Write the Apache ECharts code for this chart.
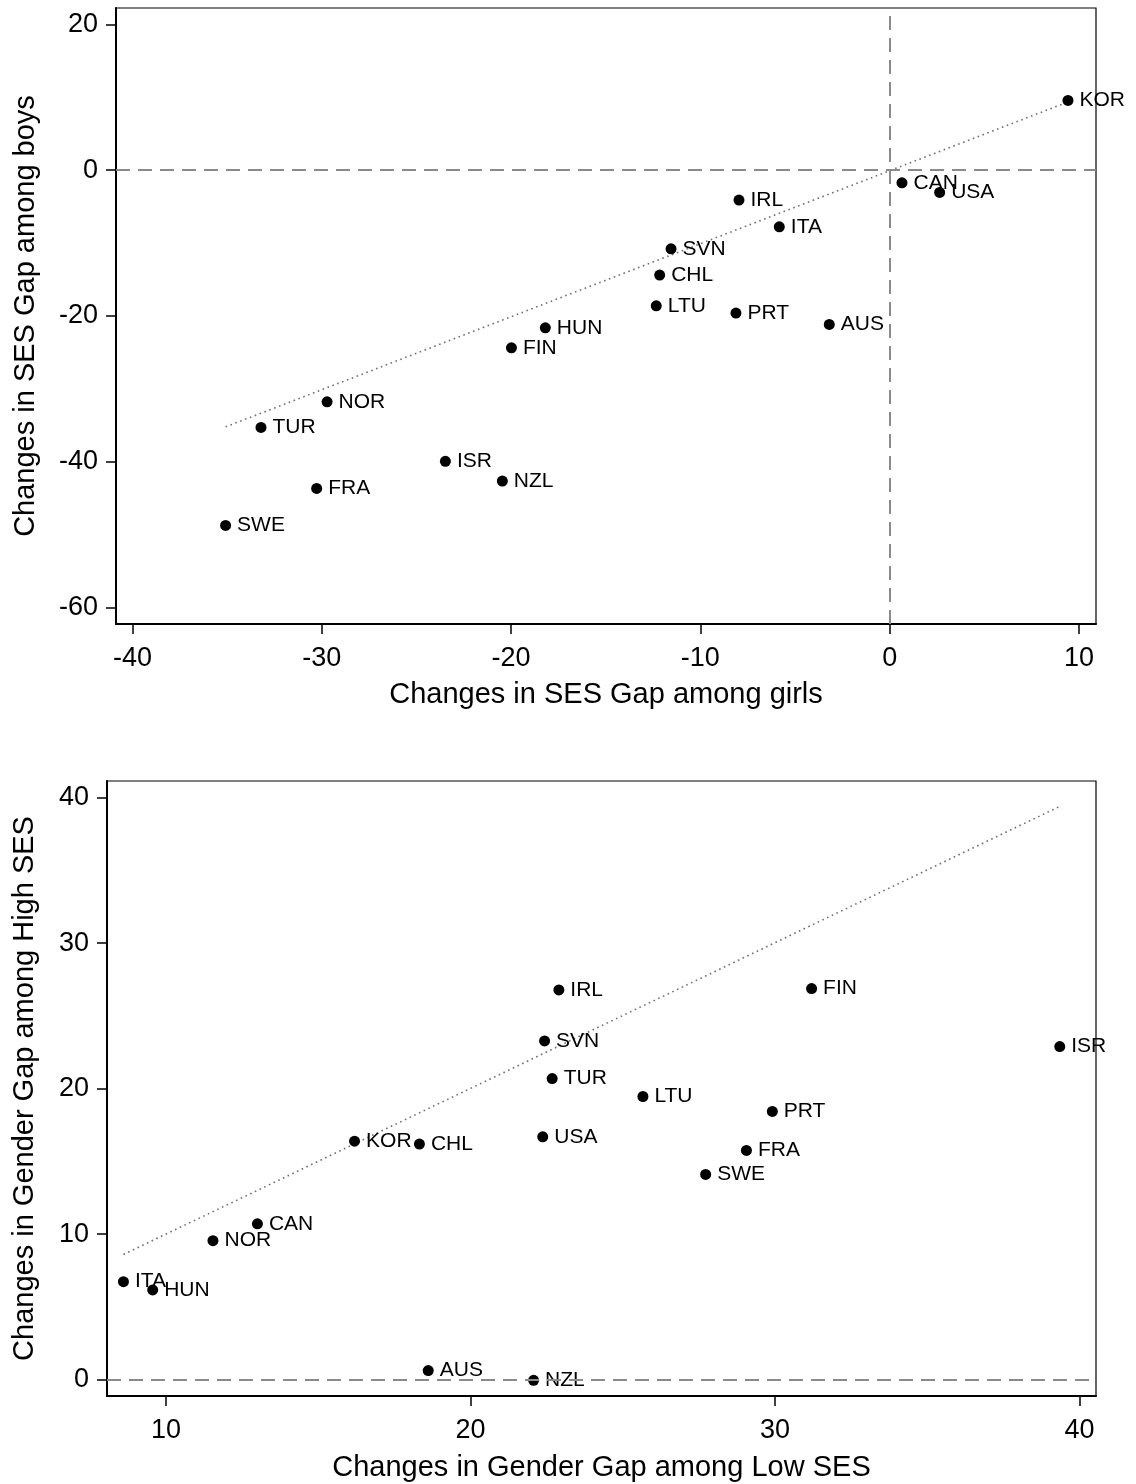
<!DOCTYPE html>
<html>
<head>
<meta charset="utf-8">
<script src="https://cdn.jsdelivr.net/npm/echarts@6/dist/echarts.min.js"></script>
<style>
html,body{margin:0;padding:0;background:#fff;}
#chart{width:1136px;height:1484px;}
</style>
</head>
<body>
<div id="chart"></div>
<script>
// ---- Top panel: changes in SES gap ----
const countriesTop = ['KOR','CAN','USA','IRL','ITA','SVN','CHL','LTU','PRT','AUS','HUN','FIN','NOR','TUR','ISR','NZL','FRA','SWE'];
const girlsSES = [9.42,0.65,2.64,-7.96,-5.83,-11.55,-12.15,-12.33,-8.12,-3.19,-18.19,-19.98,-29.72,-33.21,-23.47,-20.46,-30.27,-35.08];
const boysSES  = [9.55,-1.74,-3.06,-4.11,-7.77,-10.79,-14.39,-18.60,-19.60,-21.15,-21.62,-24.36,-31.76,-35.28,-39.93,-42.63,-43.64,-48.71];
const fitTopX = [-35.08, 9.42];
const fitTopY = [-35.2, 9.35];
const xTicksTop = [-40,-30,-20,-10,0,10];
const yTicksTop = [20,0,-20,-40,-60];

// ---- Bottom panel: changes in gender gap ----
const countriesBot = ['ISR','FIN','IRL','SVN','TUR','LTU','PRT','USA','KOR','CHL','FRA','SWE','CAN','NOR','ITA','HUN','AUS','NZL'];
const lowSES  = [39.35,31.20,22.90,22.43,22.68,25.66,29.91,22.37,16.19,18.32,29.06,27.72,13.00,11.54,8.60,9.56,18.61,22.07];
const highSES = [22.89,26.88,26.79,23.28,20.69,19.46,18.43,16.69,16.39,16.19,15.75,14.10,10.71,9.55,6.73,6.16,0.62,-0.05];
const fitBotX = [8.60, 39.35];
const fitBotY = [8.60, 39.40];
const xTicksBot = [10,20,30,40];
const yTicksBot = [0,10,20,30,40];

const FONT = "'Liberation Sans', Arial, sans-serif";
const chart = echarts.init(document.getElementById('chart'), null, {renderer:'canvas'});

function valueAxis(gridIndex, min, max, ticks, name, nameGap, isY) {
  return {
    type: 'value', gridIndex, min, max,
    name, nameLocation: 'middle', nameGap,
    nameTextStyle: {fontSize: 29, color: '#000', fontFamily: FONT},
    axisLine: {show: true, onZero: false, lineStyle: {color: '#000', width: 2}},
    axisTick: {show: true, customValues: ticks, length: 10, lineStyle: {color: '#000', width: 1.5}},
    axisLabel: {customValues: ticks, margin: isY ? 18 : 21, fontSize: 27, color: '#000', fontFamily: FONT},
    splitLine: {show: false}
  };
}

function pts(xs, ys, names) {
  return xs.map((x, i) => ({name: names[i], value: [x, ys[i]]}));
}

const dashStyle = {color: '#8a8a8a', width: 2, type: [14, 8]};
const labelStyle = {show: true, position: 'right', distance: 6, formatter: '{b}', fontSize: 21, color: '#000', fontFamily: FONT, opacity: 1};

chart.setOption({
  animation: false,
  backgroundColor: '#fff',
  grid: [
    {left: 116, top: 8, width: 980, height: 616, show: true, borderColor: '#000', borderWidth: 1.2},
    {left: 107, top: 781, width: 989, height: 615, show: true, borderColor: '#000', borderWidth: 1.2}
  ],
  xAxis: [
    valueAxis(0, -40.87, 10.9, xTicksTop, 'Changes in SES Gap among girls', 56, false),
    valueAxis(1, 8.06, 40.54, xTicksBot, 'Changes in Gender Gap among Low SES', 57, false)
  ],
  yAxis: [
    valueAxis(0, -62.23, 22.23, yTicksTop, 'Changes in SES Gap among boys', 76, true),
    valueAxis(1, -1.13, 41.15, yTicksBot, 'Changes in Gender Gap among High SES', 68, true)
  ],
  series: [
    {
      type: 'line', xAxisIndex: 0, yAxisIndex: 0, silent: true,
      data: fitTopX.map((x, i) => [x, fitTopY[i]]),
      showSymbol: false, symbol: 'none',
      lineStyle: {color: '#707070', width: 1.6, type: [1.6, 3.6]},
      markLine: {
        silent: true, symbol: 'none', label: {show: false},
        lineStyle: dashStyle,
        data: [{yAxis: 0}, {xAxis: 0}]
      },
      z: 1
    },
    {
      type: 'scatter', xAxisIndex: 0, yAxisIndex: 0,
      data: pts(girlsSES, boysSES, countriesTop),
      symbol: 'circle', symbolSize: 11,
      itemStyle: {color: '#000', opacity: 1},
      label: labelStyle,
      z: 3
    },
    {
      type: 'line', xAxisIndex: 1, yAxisIndex: 1, silent: true,
      data: fitBotX.map((x, i) => [x, fitBotY[i]]),
      showSymbol: false, symbol: 'none',
      lineStyle: {color: '#707070', width: 1.6, type: [1.6, 3.6]},
      markLine: {
        silent: true, symbol: 'none', label: {show: false},
        lineStyle: dashStyle,
        data: [{yAxis: 0}]
      },
      z: 1
    },
    {
      type: 'scatter', xAxisIndex: 1, yAxisIndex: 1,
      data: pts(lowSES, highSES, countriesBot),
      symbol: 'circle', symbolSize: 11,
      itemStyle: {color: '#000', opacity: 1},
      label: labelStyle,
      z: 3
    }
  ]
});
</script>
</body>
</html>
